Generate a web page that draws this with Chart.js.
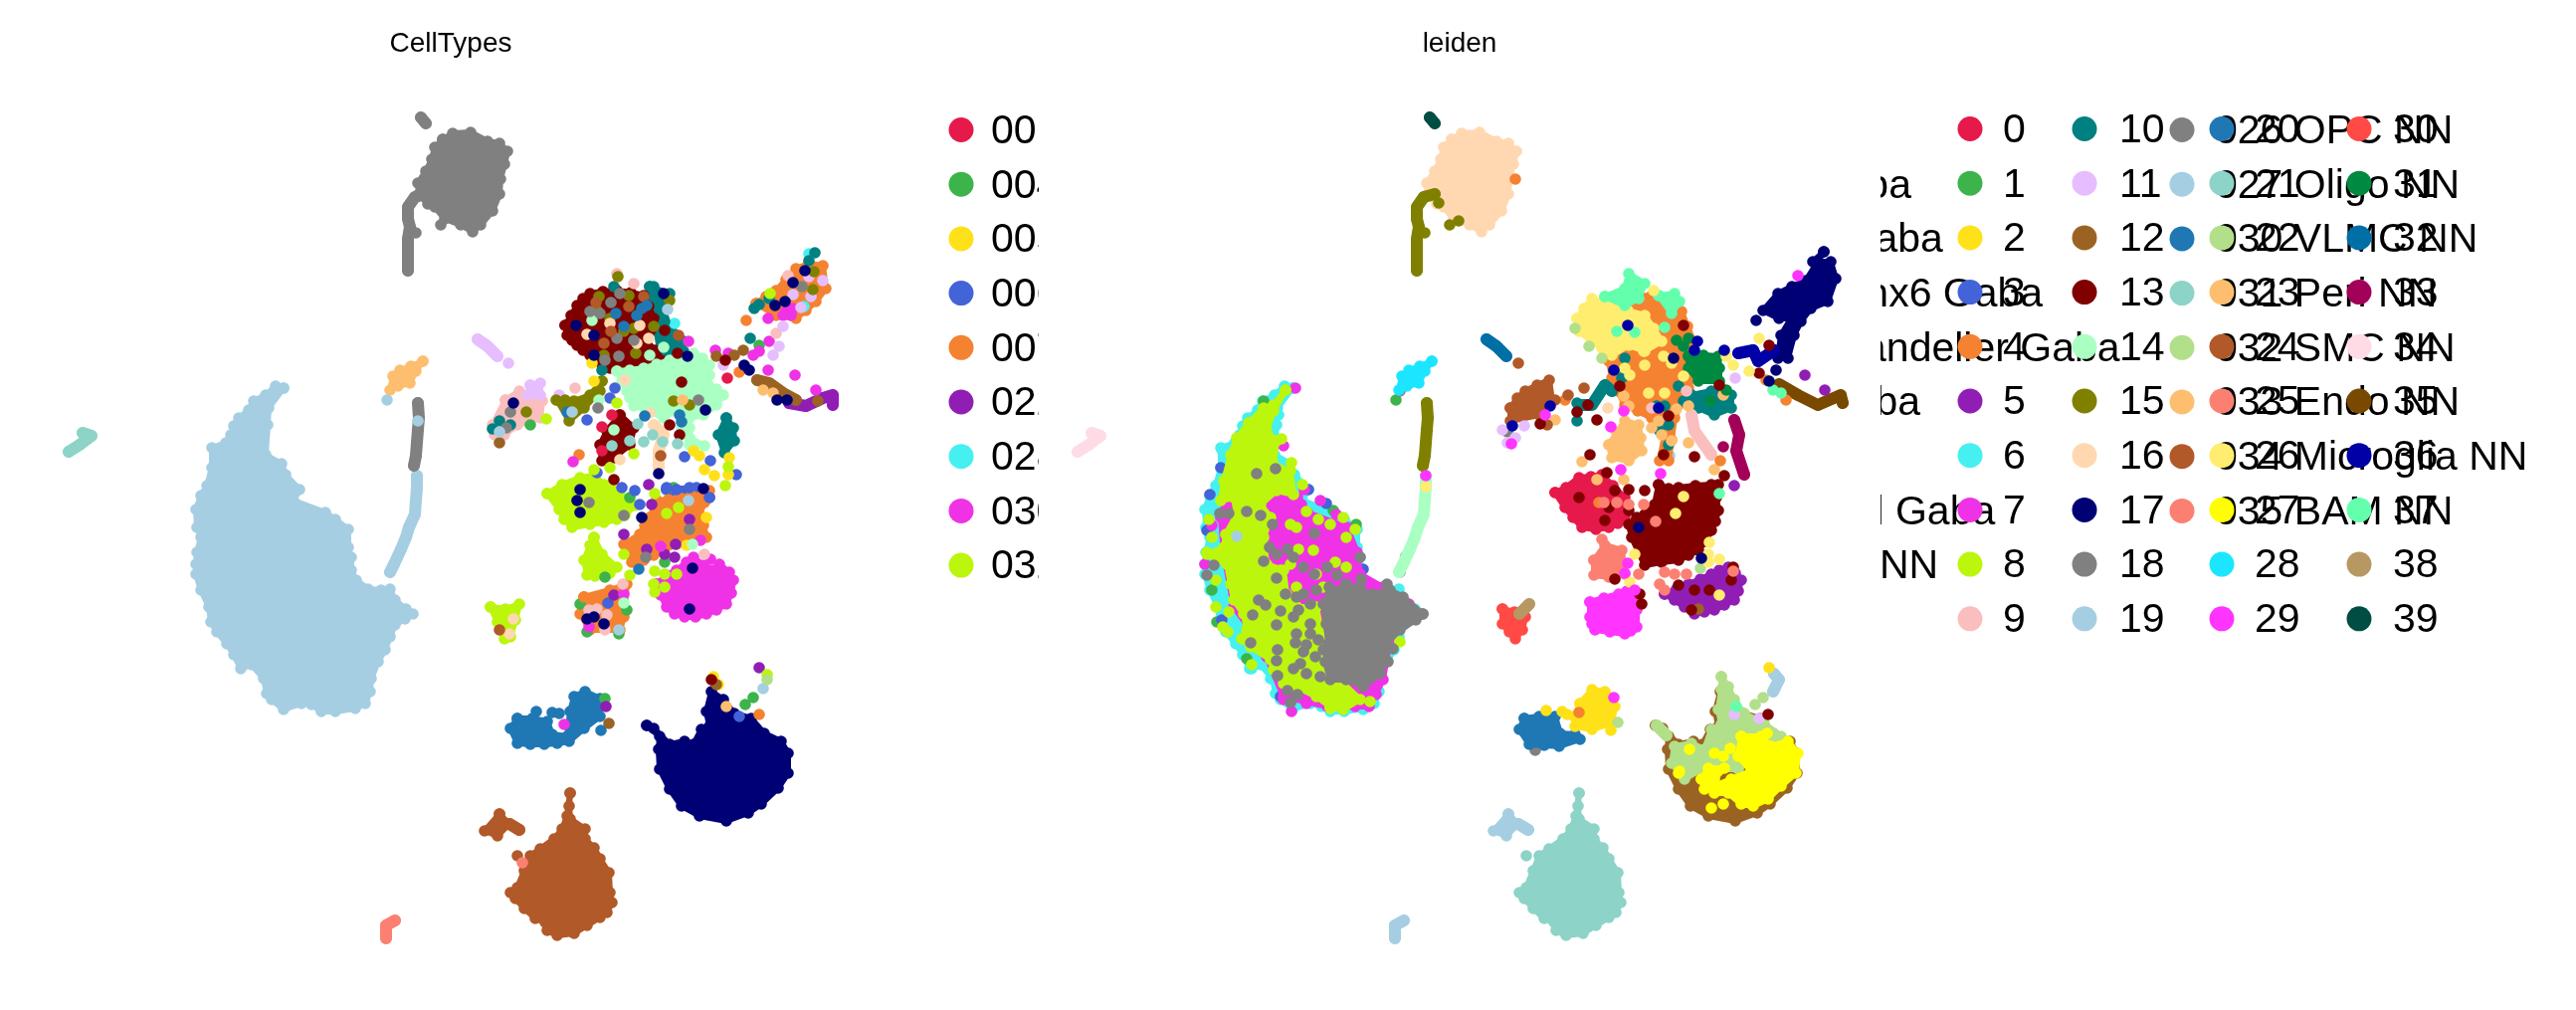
<!DOCTYPE html>
<html>
<head>
<meta charset="utf-8">
<title>CellTypes / leiden</title>
<script src="https://cdn.jsdelivr.net/npm/chart.js@4/dist/chart.umd.min.js"></script>
<style>
    html, body { margin: 0; background: #fff; overflow: hidden; }
    canvas { position: absolute; left: 0; top: 0; }
</style>
</head>
<body>
<canvas id="cellTypes" width="2589" height="1015"></canvas>
<canvas id="leiden" width="2589" height="1015"></canvas>
<script>
// Paleta compartida por las dos leyendas
const palette = ['#e6194b','#3cb44b','#ffe119','#4363d8','#f58231','#911eb4','#46f0f0','#f032e6','#bcf60c','#fabebe',
    '#008080','#e6beff','#9a6324','#800000','#aaffc3','#808000','#ffd8b1','#000075','#808080','#a6cee3',
    '#1f78b4','#8dd3c7','#b2df8a','#fdbf6f','#b15928','#fb8072','#ffed6f','#ffff00','#1ce6ff','#ff34ff',
    '#ff4a46','#008941','#006fa6','#a30059','#ffdbe5','#7a4900','#0000a6','#63ffac','#b79762','#004d43'];

const cellTypeLabels = ['001 CLA-EPd-CTX Car3 Glut','004 L6 IT CTX Glut','005 L5 IT CTX Glut','006 L4/5 IT CTX Glut','007 L2/3 IT CTX Glut',
    '022 L5 ET CTX Glut','028 L6b/CT ENT Glut','030 L6 CT CTX Glut','032 L5 NP CTX Glut',
    '046 Vip Gaba','047 Sncg Gaba','049 Lamp5 Gaba','050 Lamp5 Lhx6 Gaba','051 Pvalb chandelier Gaba','052 Pvalb Gaba','053 Sst Gaba','056 Sst Chodl Gaba','019 Astro-TE NN',
    '026 OPC NN','027 Oligo NN','030 VLMC NN','031 Peri NN','032 SMC NN','033 Endo NN','034 Microglia NN','035 BAM NN'];
const leidenLabels = ['0','1','2','3','4','5','6','7','8','9','10','11','12','13','14','15','16','17','18','19',
    '20','21','22','23','24','25','26','27','28','29','30','31','32','33','34','35','36','37','38','39'];

// Contornos de los grupos (mismo embedding en ambos paneles)
const bigBlob = [[285,390],[270,410],[269,427],[267,457],[283,466],[287,477],[301,492],[295,503],[327,515],[337,522],[350,532],[350,550],[353,560],[353,573],[358,583],[370,592],[383,593],[392,592],[397,603],[408,612],[415,617],[407,622],[397,628],[392,640],[387,653],[380,665],[373,682],[372,695],[367,707],[357,712],[337,715],[323,715],[313,708],[303,707],[285,713],[273,703],[268,697],[265,682],[253,668],[242,672],[235,658],[228,647],[218,635],[212,625],[210,610],[202,593],[197,577],[197,567],[198,555],[202,540],[198,530],[197,512],[202,498],[208,488],[213,470],[213,450],[227,445],[232,437],[235,428],[240,420],[250,412],[255,403],[267,397],[277,388]];
const upperStem = [[420,405],[421,420],[420,432],[419,445],[418,458],[416,468]];
const lowerStem = [[419,478],[419,490],[418,503],[417,517],[411,530],[408,540],[403,552],[396,567],[392,575]];
const topBlob = [[445,140],[455,134],[473,133],[490,142],[502,144],[510,152],[507,165],[503,180],[502,195],[495,212],[483,226],[475,233],[463,226],[447,220],[437,208],[430,205],[421,195],[420,184],[428,172],[434,160],[437,148]];
const topLobe = [[423,118],[428,124]];
const topTail = [[428,195],[417,198],[410,208],[410,220],[412,228],[410,240],[410,253],[410,267],[410,272]];
const tailSpurs = [[418,234],[443,226],[432,204]];
const fingerPatch = [[425,363],[413,368],[402,372],[395,378],[392,392],[400,388],[412,385],[418,373]];
const needle = [[480,341],[490,348],[500,358]];
const farLeftStrip = [[83,435],[92,438],[80,447],[69,454]];
const southBlob = [[573,797],[572,810],[573,823],[588,833],[588,843],[597,852],[603,863],[612,877],[613,897],[615,907],[610,917],[603,922],[590,930],[577,938],[560,940],[550,935],[548,927],[538,923],[527,913],[518,903],[513,897],[520,892],[527,875],[533,860],[543,853],[557,843],[565,833],[570,820]];
const southLobe = [[502,818],[487,835],[500,840],[512,828]];
const southLobeTail = [[512,828],[522,834]];
const southDot = [[520,860]];
const cornerStrip = [[397,925],[388,930],[388,943]];
const eastBlob = [[650,729],[663,740],[662,753],[663,773],[673,793],[685,810],[703,820],[730,825],[752,817],[765,808],[782,792],[792,777],[792,757],[785,745],[768,737],[755,722],[738,717],[727,703],[715,695],[710,715],[713,730],[705,733],[697,748],[688,745],[673,748],[657,732]];

// Panel CellTypes: zonas centrales
const ctMaroon = [[568,327],[574,317],[580,307],[586,300],[593,295],[606,293],[620,292],[634,294],[647,297],[652,308],[657,320],[654,332],[650,343],[658,352],[667,363],[660,377],[650,373],[640,370],[627,370],[613,370],[603,364],[593,357],[586,352],[580,347],[575,342],[570,337]];
const ctTeal = [[653,288],[673,295],[667,320],[687,343],[687,353],[680,367],[663,353],[660,333]];
const ctTealLow = [[730,420],[737,430],[738,443],[728,455],[722,437]];
const ctMint = [[620,373],[633,372],[647,370],[660,366],[673,362],[687,363],[697,355],[706,360],[713,367],[713,377],[712,387],[720,391],[727,397],[720,407],[707,417],[693,420],[693,430],[693,440],[708,448],[693,447],[685,430],[680,412],[667,420],[650,412],[637,408],[633,400],[630,393],[625,383]];
const ctOliveMid = [[605,383],[593,397],[577,403],[560,402],[572,423],[587,410],[603,393]];
const ctMaroonLow = [[623,417],[637,430],[633,447],[617,460],[605,463],[603,447],[610,433]];
const ctPeachStem = [[657,427],[667,437],[662,453],[662,470]];
const ctLimeUp = [[550,496],[565,487],[583,480],[597,478],[607,487],[615,492],[623,498],[638,508],[628,518],[620,522],[607,525],[593,527],[575,530],[567,522],[562,512]];
const ctLimeLow = [[597,540],[605,557],[620,570],[613,576],[607,578],[598,579],[590,578],[587,563],[593,548]];
const ctOrange = [[660,503],[672,502],[683,500],[695,498],[707,497],[713,493],[708,505],[703,517],[707,528],[710,540],[693,540],[680,547],[667,553],[657,558],[647,563],[635,565],[627,547],[643,537],[648,528],[653,520]];
const ctMagenta = [[660,587],[670,578],[680,573],[690,565],[697,560],[707,568],[717,573],[723,567],[733,575],[737,583],[735,596],[730,607],[720,613],[710,617],[699,620],[688,620],[678,617],[670,610],[664,598]];
const ctOrangeFoot = [[587,600],[613,593],[630,587],[627,620],[623,633],[593,633],[583,617]];
const ctLimeSmall = [[493,610],[508,612],[522,607],[518,623],[513,640],[507,642],[500,625]];
const ctPinkLeft = [[508,402],[522,393],[545,403],[543,420],[520,427],[507,437],[497,437],[495,427]];
const ctLilacLeft = [[533,387],[543,385],[543,397],[530,397]];
const ctArmOrange = [[760,305],[770,298],[780,292],[790,281],[800,270],[813,265],[827,267],[830,290],[820,303],[810,312],[800,320],[780,317]];
const ctArmBrown = [[761,382],[773,385],[787,395],[800,402]];
const ctArmPurple = [[793,405],[810,408],[827,400],[837,397],[837,407]];
const ctBlueSouth = [[520,722],[535,722],[550,725],[555,738],[570,740],[573,715],[577,700],[588,695],[603,702],[603,720],[587,732],[572,745],[560,747],[547,748],[533,748],[520,747],[513,732]];

const ctNavyDots = [[579,327],[597,337],[597,357],[667,295],[691,358],[709,412],[583,492],[580,503],[583,515],[645,520],[662,476],[707,491],[696,571],[693,612],[590,622],[597,620],[607,627],[516,405],[753,372],[748,367],[809,272],[797,284],[789,303],[779,307],[781,402],[791,402]];
const ctGrayDots = [[593,313],[603,315],[614,304],[623,295],[620,340],[637,342],[608,362],[622,358],[601,410],[702,402],[592,505],[627,518],[693,532],[649,560],[513,414],[509,430],[806,288]];
const ctOliveDots = [[621,278],[602,298],[632,297],[657,328],[607,357],[639,355],[677,403],[693,407],[529,414],[817,291],[818,273],[559,402],[568,402],[600,312],[637,330],[673,302],[613,320],[627,333]];
const ctBlueDots = [[619,315],[627,328],[640,317],[650,307],[645,310],[570,414],[648,418],[683,417],[685,424],[642,572],[555,716],[562,717],[539,715],[604,734]];
const ctRustDots = [[599,304],[614,333],[607,345],[632,308],[682,337],[664,458],[502,633],[647,298]];
const ctBrownDots = [[502,445],[747,352],[738,357],[720,358],[822,403],[612,727],[720,688]];
const ctSkyDots = [[671,311],[692,503],[622,633],[502,434],[575,414],[420,423],[389,402],[767,692]];
const ctTealMintDots = [[641,426],[656,437],[647,444],[666,444],[681,446],[615,448],[633,443]];
const ctPeachDots = [[613,325],[590,336],[643,327],[652,340],[628,382],[623,462],[640,345],[512,637],[516,622],[653,415]];
const ctMintDots = [[595,322],[667,349],[653,357],[617,432],[627,606],[696,547],[602,402]];
const ctYellowDots = [[697,453],[703,458],[733,460],[732,477],[708,472],[718,478],[595,365],[597,383],[710,520],[690,548],[717,680],[722,688]];
const ctIndigoDots = [[590,422],[618,390],[613,400],[688,459],[714,463],[740,477],[625,490],[638,493],[680,492],[693,490],[713,500],[643,507],[600,475],[670,490],[743,720],[611,606]];
const ctCrimsonDots = [[605,429],[615,417],[605,453],[731,380]];
const ctTealDots = [[758,310],[763,306],[773,300],[819,254],[813,262],[754,340],[502,423],[513,427],[495,431],[605,372],[668,323],[657,288],[617,288]];
const ctOrangeDots = [[750,322],[743,374],[582,457],[587,600],[763,718]];
const ctPurpleDots = [[655,507],[652,487],[627,537],[650,552],[668,557],[693,522],[679,547],[678,560],[617,598],[763,671],[609,710]];
const ctMagentaDots = [[772,320],[790,313],[797,310],[787,317],[795,317],[763,353],[773,343],[757,357],[772,372],[799,377],[719,352],[732,355],[820,392],[576,464],[692,343],[664,549],[704,543],[714,562],[627,597],[592,630],[567,728]];
const ctLimeDots = [[658,574],[668,577],[680,577],[657,587],[668,590],[658,595],[670,516],[682,510],[658,496],[620,405],[549,421],[597,472],[613,470],[732,469],[729,488],[627,557],[633,578],[637,456],[774,295],[771,678]];
const ctPinkDots = [[620,275],[637,285],[578,390],[792,277],[780,335],[708,557],[626,587],[592,613],[610,618],[600,612],[608,633]];
const ctLilacDots = [[827,282],[813,278],[797,296],[805,309],[815,298],[777,357],[783,348],[787,328],[562,397],[727,367],[511,365]];
const ctGreenDots = [[590,635],[622,637],[630,613],[583,607],[608,580],[668,565],[633,500],[677,490],[533,427],[763,347],[749,708],[757,701],[608,702]];
const ctCyanDots = [[678,325],[808,308],[813,255]];
const ctApricotDots = [[686,402],[767,392],[777,395],[730,710]];
const ctMaroonDots = [[617,482],[668,332],[681,355],[685,384],[729,362],[673,427],[683,437],[715,683]];
const ctSalmonDots = [[525,867]];
const ctSpringDots = [[771,683]];

// Panel leiden: zonas centrales y del grupo grande
const ldMagentaCore = [[226,470],[262,447],[270,480],[290,500],[300,515],[340,530],[350,555],[353,577],[376,590],[402,607],[382,647],[376,683],[362,710],[320,710],[276,700],[259,660],[243,633],[226,610],[216,557],[213,520]];
const ldLimeMain = [[278,392],[266,407],[256,410],[241,425],[229,440],[223,457],[216,483],[213,503],[226,500],[229,517],[218,537],[216,550],[199,557],[219,567],[223,587],[226,603],[236,617],[239,633],[234,642],[243,650],[263,663],[266,673],[276,687],[289,690],[309,700],[323,710],[336,713],[353,703],[336,687],[316,670],[309,643],[296,630],[289,610],[279,597],[276,573],[259,567],[256,540],[263,520],[253,507],[269,493],[286,497],[283,473],[266,467],[269,443],[259,433],[266,413]];
const ldLimeSouth = [[289,610],[309,610],[316,647],[323,660],[313,687],[289,680],[283,657],[289,637]];
const ldGrayMass = [[416,617],[396,600],[383,593],[366,597],[353,593],[339,587],[323,597],[316,607],[319,627],[321,647],[318,665],[323,683],[339,683],[356,690],[373,677],[379,663],[379,647],[393,633],[409,623]];
const ldOrange = [[606,300],[626,298],[646,297],[661,305],[676,313],[682,328],[688,343],[687,362],[686,380],[683,390],[676,405],[669,420],[666,442],[663,463],[654,463],[659,437],[646,420],[632,413],[619,407],[612,393],[606,380],[603,363]];
const ldButter = [[571,320],[578,310],[586,300],[606,307],[622,312],[639,317],[648,330],[656,343],[639,353],[623,347],[606,357],[596,350],[586,343],[573,333]];
const ldSpringA = [[599,298],[619,290],[623,275],[639,285],[633,300],[619,307]];
const ldSpringB = [[653,297],[669,295],[674,303],[666,315]];
const ldGreen = [[683,358],[698,357],[713,358],[714,370],[714,383],[693,383],[683,370]];
const ldTeal = [[686,397],[706,393],[726,397],[726,410],[709,417],[693,410]];
const ldTealStrand = [[573,407],[586,407],[599,387],[606,393]];
const ldApricot = [[603,447],[611,435],[619,423],[633,427],[635,440],[636,453],[623,463],[606,460]];
const ldPinkStrand = [[686,417],[689,433],[699,447],[706,457]];
const ldPlumStrand = [[729,422],[734,437],[731,453],[739,477]];
const ldRustLeft = [[504,410],[511,400],[519,393],[531,387],[543,382],[546,403],[533,417],[504,423]];
const ldNavyArm = [[819,253],[808,263],[826,263],[831,280],[823,303],[806,310],[796,323],[789,337],[783,360],[773,360],[776,337],[786,320],[774,320],[758,312],[773,295],[787,288],[801,282]];
const ldIndigoStrand = [[733,355],[748,352],[753,363],[769,352]];
const ldUmberStrand = [[774,386],[793,397],[813,407],[836,397],[838,405]];
const ldCrimson = [[549,495],[560,490],[573,480],[585,479],[596,477],[607,488],[619,500],[620,510],[619,520],[612,526],[603,530],[590,532],[576,530],[567,520],[559,510]];
const ldMaroon = [[653,487],[663,491],[673,490],[690,488],[706,487],[711,500],[713,513],[710,524],[706,533],[700,544],[693,553],[683,558],[673,563],[656,565],[639,568],[633,555],[626,540],[623,527],[631,520],[639,517],[649,507]];
const ldSalmon = [[588,563],[599,548],[616,553],[619,577],[603,580],[588,578]];
const ldMagentaBlock = [[584,605],[598,601],[613,597],[621,594],[629,597],[631,613],[631,630],[625,634],[619,637],[604,635],[589,633],[586,627],[584,620]];
const ldPurple = [[659,597],[671,592],[683,587],[695,582],[706,577],[714,573],[723,570],[730,576],[736,583],[733,594],[729,603],[719,608],[709,613],[699,615],[689,617],[679,610],[669,603]];
const ldRed = [[496,612],[508,615],[519,620],[516,633],[509,642],[503,635],[496,627]];
const ldTanStrand = [[523,607],[513,617]];
const ldBlueSouth = [[518,722],[533,720],[549,720],[554,737],[569,738],[574,743],[553,750],[538,749],[523,748],[513,733]];
const ldYellowSouth = [[574,707],[586,693],[599,695],[609,710],[606,727],[586,733],[569,730],[568,720]];
const ldPale = [[716,680],[723,690],[729,703],[739,717],[759,727],[776,740],[733,773],[696,773],[679,783],[666,767],[669,750],[686,747],[699,753],[706,733],[716,728],[713,713],[716,693]];
const ldPaleTail = [[651,729],[661,739]];
const ldSkyStrand = [[769,677],[774,683],[768,695]];
const ldLemonMain = [[736,740],[756,740],[766,750],[783,745],[793,757],[791,777],[776,790],[763,803],[748,810],[736,808],[723,797],[709,797],[709,790],[726,783],[746,775],[733,760]];
const ldLemonSmall = [[696,783],[703,772],[719,772],[709,783],[699,793]];

const ldGrayDots = [[212,516],[221,516],[239,514],[253,518],[265,527],[249,476],[268,471],[206,568],[199,578],[256,564],[262,550],[269,557],[280,552],[286,560],[296,570],[269,581],[278,597],[251,603],[258,608],[245,618],[273,614],[269,628],[289,637],[288,646],[243,646],[270,653],[269,664],[270,679],[280,694],[283,706],[290,698],[320,570],[330,578],[307,577],[353,560],[354,582],[307,536],[380,587],[393,575],[399,559],[386,652],[381,665],[393,393],[529,754],[501,434],
    [289,600],[296,597],[303,607],[291,613],[286,620],[303,627],[303,637],[311,643],[299,648],[296,655],[308,660],[293,667],[286,672],[299,677],[313,680],[323,667],[316,653],[309,593],[339,587],[353,590],[322,590]];
const ldLimeDots = [[274,441],[199,555],[208,583],[208,610],[215,630],[220,635],[244,668],[323,712],[363,705],[348,532],[339,540],[336,520],[323,527],[311,522],[299,514],[295,487],[284,465],[221,615],[204,540],[201,522],[309,577],[289,590],[339,570],[328,565],[291,552],[283,527],[289,530],[306,553],[283,567],[273,573],[316,590],[393,645]];
const ldMagentaDots = [[276,448],[288,390],[313,503],[297,492],[197,567],[269,508],[294,507],[286,540],[299,707],[276,703],[284,715],[369,698],[348,710],[204,528],[329,517],[599,710]];
const ldIndigoDots = [[213,470],[202,497],[319,506],[323,547],[333,550],[356,572],[301,492],[373,683],[199,533],[214,623],[273,700]];
const ldCyanDots = [[214,452],[209,488],[284,514],[319,552],[244,672],[263,682],[356,713],[314,710],[271,417],[231,647]];
const ldGreenDots = [[256,403],[326,513],[349,527],[204,593],[239,662],[209,625],[389,402]];
const ldSkyDots = [[229,539],[664,458]];
const ldButterDots = [[619,370],[624,377],[639,367],[658,358],[666,365],[643,395],[659,395],[678,378],[638,353],[619,343],[678,499],[670,516],[704,545],[703,557],[714,562],[703,565],[629,557],[624,585],[714,598],[754,340],[728,367],[744,373],[721,358],[648,292],[419,489]];
const ldSpringDots = [[611,333],[629,334],[659,329],[714,496],[768,392],[776,395],[731,710]];
const ldGreenDarkDots = [[671,342],[683,340],[678,348],[721,392],[705,403]];
const ldTealDots = [[619,360],[616,380],[651,408],[659,408],[673,388],[678,403],[663,427],[654,433],[663,447],[571,423],[571,405]];
const ldApricotDots = [[618,398],[623,408],[653,423],[646,430],[656,437],[666,443],[671,411],[683,408],[576,464],[591,482],[618,482],[683,445],[709,472],[549,422],[718,397]];
const ldRoyalDots = [[544,408],[506,428],[622,327],[608,372],[653,410],[692,343],[689,352],[719,352]];
const ldNavyDots = [[633,530],[696,561],[668,360],[751,322],[771,372],[764,383]];
const ldFuchsiaDots = [[539,417],[505,446],[618,413],[605,429],[615,472],[655,476],[622,566],[619,576],[629,593],[793,277],[419,478],[608,701]];
const ldMaroonDots = [[678,327],[614,388],[571,414],[582,407],[591,422],[663,418],[584,457],[658,457],[689,459],[601,475],[534,426],[764,347],[609,493],[623,492],[603,510],[599,523],[573,500],[639,493],[623,513],[719,478],[713,487],[689,593],[704,593],[686,613],[673,588],[726,583],[728,570],[714,387],[754,375],[609,582],[634,597],[636,607],[763,718]];
const ldSalmonDots = [[598,505],[611,505],[623,507],[638,507],[650,524],[596,542],[659,575],[669,577],[681,577],[654,587],[659,593],[633,577],[728,574]];
const ldRustDots = [[562,397],[578,390],[541,427],[512,365],[549,402]];
const ldPeachDots = [[602,410]];
const ldPinkDots = [[646,410],[681,393]];
const ldOrangeDots = [[715,463],[593,505],[559,402],[509,180],[781,402],[761,382],[573,716]];
const ldPaleDots = [[569,330],[583,348],[596,360],[695,571],[750,708],[758,701],[612,726]];
const ldLilacDots = [[496,432],[518,428],[501,445],[730,380],[509,440],[729,718],[754,722]];
const ldBrownDots = [[693,612]];
const ldPurpleDots = [[729,488],[800,377],[820,392]];
const ldPlumDots = [[718,449]];
const ldYellowDots = [[764,671],[540,714],[556,715],[561,718],[605,734]];
const ldLemonDots = [[684,753],[709,757],[718,760],[725,752],[674,775],[673,777],[706,812],[718,808],[762,737]];
const ldTopOlive = [[452,222]];

// Capas de abajo hacia arriba: [tipo, indice de color, puntos]
const cellTypeLayers = [
    ['blob',19,bigBlob],['strand',19,lowerStem],['strand',18,upperStem],
    ['blob',18,topBlob],['strand',18,topLobe],['strand',18,topTail],['dots',18,tailSpurs],
    ['blob',23,fingerPatch],['strand',11,needle],['strand',21,farLeftStrip],
    ['blob',24,southBlob],['blob',24,southLobe],['strand',24,southLobeTail],['dots',24,southDot],['strand',25,cornerStrip],
    ['blob',17,eastBlob],['blob',20,ctBlueSouth],
    ['blob',9,ctPinkLeft],['blob',11,ctLilacLeft],['blob',8,ctLimeSmall],
    ['blob',4,ctArmOrange],['strand',5,ctArmPurple],['strand',12,ctArmBrown],
    ['blob',10,ctTeal],['blob',13,ctMaroon],['blob',15,ctOliveMid],['strand',16,ctPeachStem],
    ['blob',13,ctMaroonLow],['blob',14,ctMint],['blob',10,ctTealLow],
    ['blob',3,[[670,492],[700,490],[713,500],[690,510]]],
    ['blob',8,ctLimeUp],['blob',8,ctLimeLow],['blob',4,ctOrange],['blob',7,ctMagenta],
    ['blob',4,ctOrangeFoot],
    ['dots',1,ctGreenDots],['dots',6,ctCyanDots],['dots',3,ctIndigoDots],['dots',0,ctCrimsonDots],['dots',2,ctYellowDots],
    ['dots',10,ctTealDots],['dots',4,ctOrangeDots],['dots',5,ctPurpleDots],['dots',7,ctMagentaDots],['dots',8,ctLimeDots],
    ['dots',9,ctPinkDots],['dots',11,ctLilacDots],['dots',12,ctBrownDots],['dots',13,ctMaroonDots],['dots',14,ctMintDots],
    ['dots',15,ctOliveDots],['dots',16,ctPeachDots],['dots',18,ctGrayDots],['dots',21,ctTealMintDots],['dots',24,ctRustDots],
    ['dots',20,ctBlueDots],['dots',19,ctSkyDots],['dots',23,ctApricotDots],['dots',25,ctSalmonDots],['dots',22,ctSpringDots],['dots',17,ctNavyDots]
];

const leidenLayers = [
    ['blob',6,bigBlob],['dots',1,ldGreenDots],['dots',3,ldIndigoDots],['dots',6,ldCyanDots],
    ['blob',7,ldMagentaCore],['dots',7,ldMagentaDots],['blob',8,ldLimeMain],['blob',8,ldLimeSouth],['dots',8,ldLimeDots],
    ['blob',18,ldGrayMass],['dots',18,ldGrayDots],['dots',19,ldSkyDots],
    ['strand',14,lowerStem],['strand',15,upperStem],
    ['blob',16,topBlob],['strand',39,topLobe],['strand',15,topTail],['dots',15,tailSpurs],['dots',15,ldTopOlive],
    ['blob',28,fingerPatch],['strand',32,needle],['strand',34,farLeftStrip],
    ['blob',21,southBlob],['blob',19,southLobe],['strand',19,southLobeTail],['dots',21,southDot],['strand',19,cornerStrip],
    ['blob',12,eastBlob],['blob',22,ldPale],['strand',22,ldPaleTail],['strand',19,ldSkyStrand],['blob',27,ldLemonMain],['blob',27,ldLemonSmall],
    ['blob',20,ldBlueSouth],['blob',2,ldYellowSouth],
    ['blob',24,ldRustLeft],['blob',17,ldNavyArm],['strand',36,ldIndigoStrand],['strand',35,ldUmberStrand],
    ['blob',4,ldOrange],['blob',10,ldTeal],['strand',10,ldTealStrand],['blob',23,ldApricot],['strand',9,ldPinkStrand],['strand',33,ldPlumStrand],
    ['blob',26,ldButter],['blob',37,ldSpringA],['blob',37,ldSpringB],['blob',31,ldGreen],
    ['blob',0,ldCrimson],['blob',13,ldMaroon],['blob',25,ldSalmon],['blob',5,ldPurple],['blob',29,ldMagentaBlock],
    ['blob',30,ldRed],['strand',38,ldTanStrand],
    ['dots',10,ldTealDots],['dots',23,ldApricotDots],['dots',4,ldOrangeDots],['dots',16,ldPeachDots],['dots',9,ldPinkDots],
    ['dots',11,ldLilacDots],['dots',22,ldPaleDots],['dots',12,ldBrownDots],['dots',5,ldPurpleDots],['dots',33,ldPlumDots],
    ['dots',31,ldGreenDarkDots],['dots',24,ldRustDots],['dots',13,ldMaroonDots],['dots',25,ldSalmonDots],['dots',26,ldButterDots],
    ['dots',37,ldSpringDots],['dots',2,ldYellowDots],['dots',27,ldLemonDots],['dots',36,ldRoyalDots],['dots',17,ldNavyDots],['dots',29,ldFuchsiaDots]
];

function buildDatasets(layers) {
    return layers.map(([kind, colorIndex, points], i) => {
        const color = palette[colorIndex];
        return {
            data: kind === 'blob' ? [...points, points[0]] : points,
            showLine: kind !== 'dots',
            fill: kind === 'blob' ? 'shape' : false,
            backgroundColor: color,
            borderColor: color,
            // en los contornos un trazo fino deja ver cada punto del borde
            borderWidth: kind === 'blob' ? 6 : 12,
            borderCapStyle: 'round',
            borderJoinStyle: 'round',
            pointRadius: 5.8,
            pointBorderWidth: 0,
            pointBackgroundColor: color,
            clip: false,
            order: layers.length - i
        };
    });
}

// Leyenda en columnas; las posiciones se dan por columna
function legendPlugin(labels, firstRowY, columns) {
    return {
        id: 'columnLegend',
        afterDraw(chart) {
            const ctx = chart.ctx;
            ctx.save();
            ctx.font = '41px "Liberation Sans"';
            ctx.textBaseline = 'middle';
            columns.forEach(col => {
                for (let row = 0; row < col.count; row++) {
                    const y = firstRowY + row * 54.7;
                    ctx.fillStyle = '#000';
                    ctx.fillText(labels[col.start + row], col.textX, y + 2);
                }
            });
            columns.forEach(col => {
                for (let row = 0; row < col.count; row++) {
                    const y = firstRowY + row * 54.7;
                    ctx.fillStyle = palette[col.start + row];
                    ctx.beginPath();
                    ctx.arc(col.markerX, y, 12.5, 0, Math.PI * 2);
                    ctx.fill();
                }
            });
            ctx.restore();
        }
    };
}

// Fondo blanco del eje: tapa la leyenda del panel anterior
const axesBackground = {
    id: 'axesBackground',
    beforeDraw(chart) {
        const a = chart.chartArea;
        chart.ctx.save();
        chart.ctx.fillStyle = '#fff';
        chart.ctx.fillRect(a.left, 0, a.right - a.left, chart.height);
        chart.ctx.restore();
    }
};

function makeChart(canvasId, title, layers, left, plugins) {
    return new Chart(document.getElementById(canvasId), {
        type: 'scatter',
        data: { datasets: buildDatasets(layers) },
        options: {
            responsive: false,
            animation: false,
            devicePixelRatio: 1,
            layout: { padding: { left: left, right: 2589 - left - 846, top: 0, bottom: 30 } },
            scales: {
                x: { type: 'linear', display: false, min: 30, max: 876 },
                y: { type: 'linear', display: false, min: 65, max: 985, reverse: true }
            },
            plugins: {
                legend: { display: false },
                tooltip: { enabled: false },
                title: {
                    display: true,
                    text: title,
                    color: '#000',
                    font: { family: '"Liberation Sans"', size: 28, weight: 'normal' },
                    padding: { top: 27, bottom: 4.4 }
                }
            }
        },
        plugins: plugins
    });
}

makeChart('cellTypes', 'CellTypes', cellTypeLayers, 30, [legendPlugin(cellTypeLabels, 130.5, [
    { start: 0, count: 9, markerX: 966, textX: 996 },
    { start: 9, count: 9, markerX: 1604, textX: 1636 },
    { start: 18, count: 8, markerX: 2193, textX: 2226 }
])]);

makeChart('leiden', 'leiden', leidenLayers, 1044, [axesBackground, legendPlugin(leidenLabels, 129.5, [
    { start: 0, count: 10, markerX: 1980, textX: 2013 },
    { start: 10, count: 10, markerX: 2095, textX: 2130 },
    { start: 20, count: 10, markerX: 2233, textX: 2266 },
    { start: 30, count: 10, markerX: 2371, textX: 2405 }
])]);
</script>
</body>
</html>
